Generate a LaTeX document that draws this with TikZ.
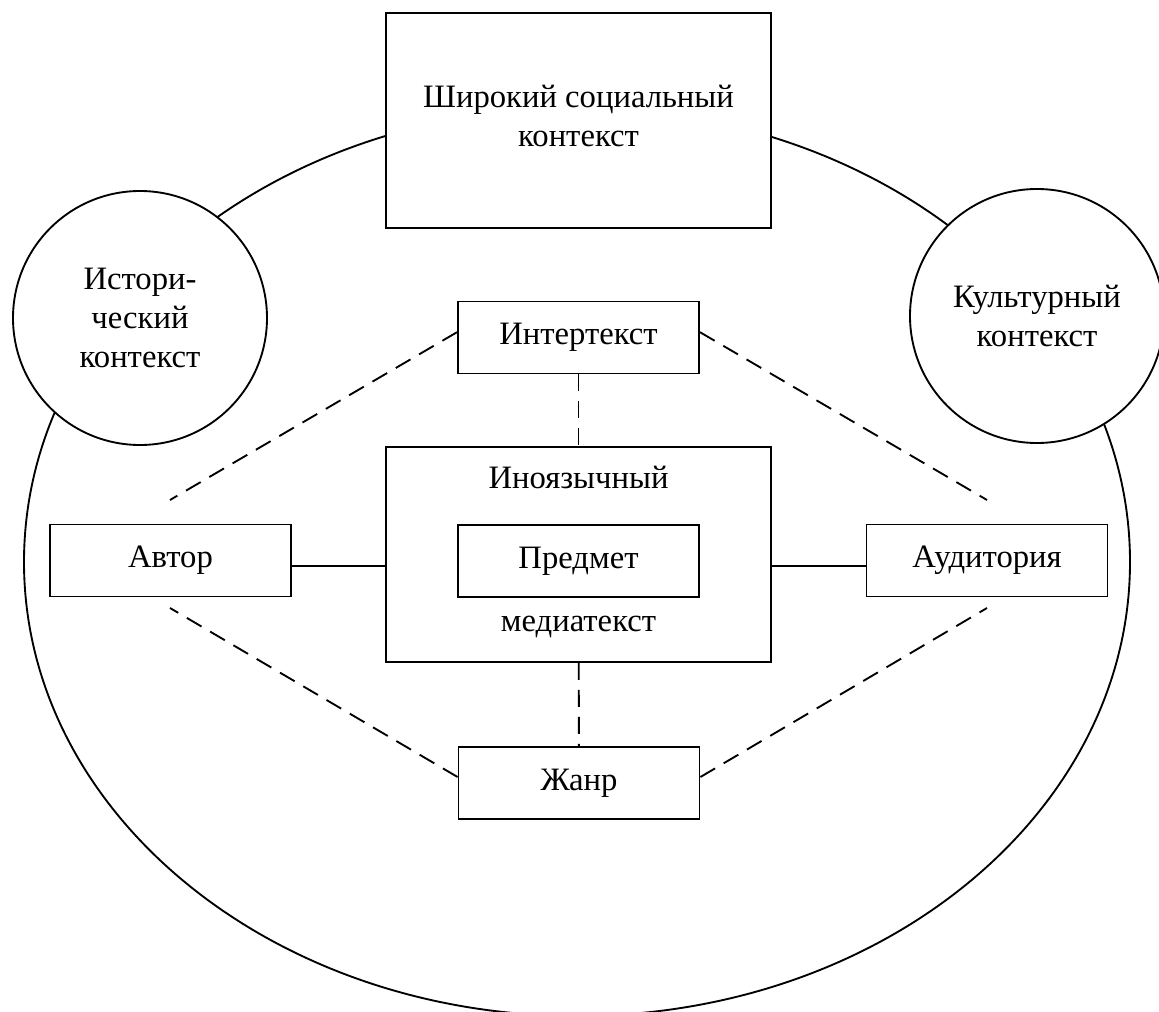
\documentclass[tikz,border=0pt]{standalone}
\usepackage{fontspec}
\setmainfont{Liberation Serif}
\begin{document}
\begin{tikzpicture}[x=0.75pt,y=-0.75pt,line width=1.4pt,
  font=\fontsize{24.5}{29}\selectfont,
  box/.style={draw,fill=white,inner sep=0pt,minimum width=180.75pt,minimum height=54pt},
  bigbox/.style={draw,fill=white,inner sep=0pt,minimum width=288.75pt,minimum height=161.25pt,align=center},
  ctx/.style={draw,fill=white,circle,inner sep=0pt,minimum size=190.5pt,align=center},
  dashline/.style={dash pattern=on 12.75pt off 7.5pt}]
\useasboundingbox (0,0) rectangle (1159,1012);
\draw (577,562) ellipse [x radius=553, y radius=454];
% outer context
\node[bigbox] (social) at (578.5,120.5) {};
\node[align=center] (socialtext) at (578.5,116) {Широкий социальный\\контекст};
\node[ctx] (hist) at (140,318) {Истори-\\ческий\\контекст};
\node[ctx] (cult) at (1037,316) {Культурный\\контекст};
% inner boxes
\node[box] (inter) at (578.5,337.5) {Интертекст};
\node[bigbox] (main) at (578.5,554.5) {};
\node (foreign) at (578.5,477) {Иноязычный};
\node (media) at (578.5,627) {медиатекст};
\node[box] (predmet) at (578.5,561) {Предмет};
\node[box] (avtor) at (170.5,560.5) {Автор};
\node[box] (aud) at (987,560.5) {Аудитория};
\node[box] (zhanr) at (579,783) {Жанр};
\coordinate (avtorup) at (170,500);
\coordinate (avtordown) at (170,608);
\coordinate (audup) at (987,500);
\coordinate (auddown) at (987,608);
% links
\draw ([yshift=-4pt]avtor.east) -- ([yshift=-4pt]avtor.east -| main.west);
\draw ([yshift=-4pt]aud.west) -- ([yshift=-4pt]aud.west -| main.east);
\draw[dashline] (inter) -- (main);
\draw[dashline] (main) -- (zhanr);
\draw[dashline] ([yshift=4pt]inter.west) -- (avtorup);
\draw[dashline] ([yshift=4pt]inter.east) -- (audup);
\draw[dashline] ([yshift=4.5pt]zhanr.west) -- (avtordown);
\draw[dashline] ([yshift=4.5pt]zhanr.east) -- (auddown);
\end{tikzpicture}
\end{document}
